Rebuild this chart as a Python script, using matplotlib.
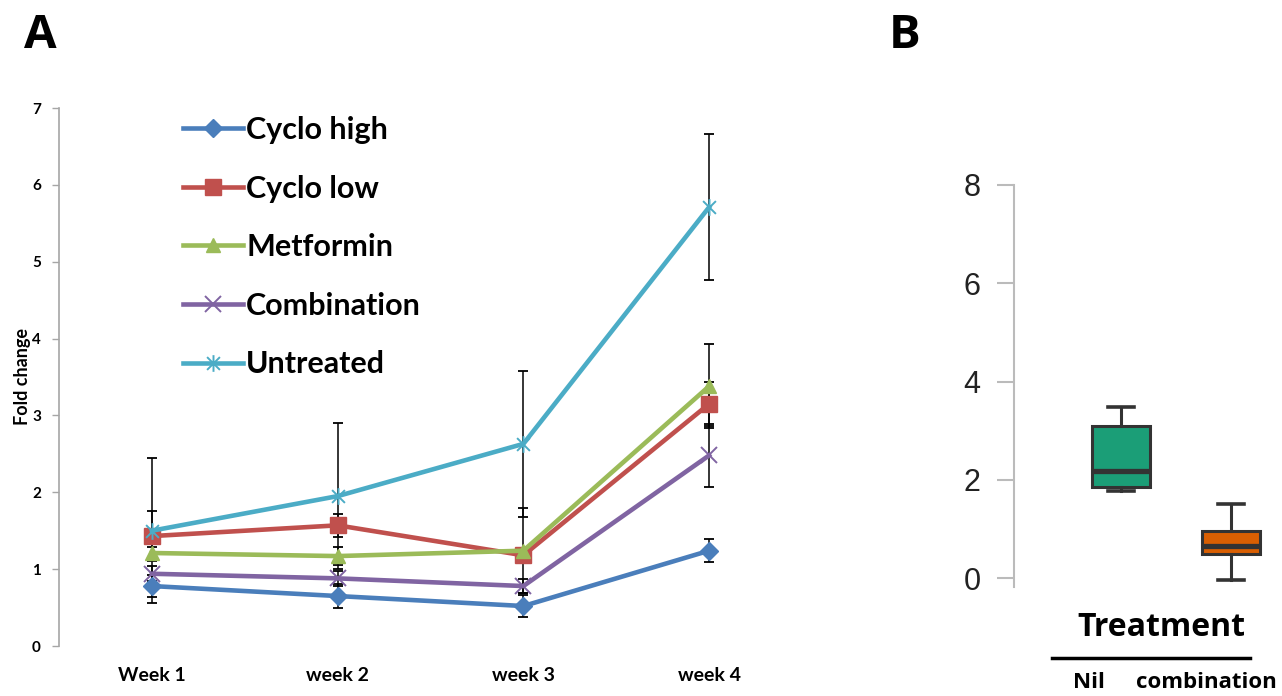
import matplotlib
matplotlib.use("Agg")
import matplotlib.pyplot as plt
from matplotlib.path import Path

# ---------------- data ----------------
weeks = ["Week 1", "week 2", "week 3", "week 4"]
series_names = ["Cyclo high", "Cyclo low", "Metformin", "Combination", "Untreated"]
cyclo_high = [0.78, 0.65, 0.52, 1.24]
cyclo_low = [1.43, 1.57, 1.18, 3.15]
metformin = [1.21, 1.17, 1.24, 3.38]
combination = [0.94, 0.88, 0.78, 2.48]
untreated = [1.50, 1.95, 2.63, 5.71]
err_cyclo_high = [0.14, 0.16, 0.14, 0.15]
err_cyclo_low = [0.33, 0.15, 0.08, 0.29]
err_metformin = [0.08, 0.12, 0.55, 0.55]
err_combination = [0.10, 0.10, 0.09, 0.41]
err_untreated = [0.94, 0.95, 0.95, 0.95]

box_labels = ["Nil", "combination"]
box_whislo = [1.77, -0.04]
box_q1 = [1.85, 0.49]
box_med = [2.18, 0.65]
box_q3 = [3.10, 0.96]
box_whishi = [3.48, 1.51]

# ---------------- styles ----------------
colors = ["#4A7EBB", "#C0504D", "#9BBB59", "#8064A2", "#4BACC6"]
star = Path([(-1, -1), (1, 1), (-1, 1), (1, -1), (0, -1.3), (0, 1.3)],
            [Path.MOVETO, Path.LINETO, Path.MOVETO, Path.LINETO, Path.MOVETO, Path.LINETO])
markers = ["D", "s", "^", "x", star]
msizes = [9, 12, 10, 11, 12]

W, H = 1282, 696
fig = plt.figure(figsize=(W / 100, H / 100), dpi=100)
fontA = "Lato"

# ---------------- panel A ----------------
axA = fig.add_axes([59 / W, 1 - 646 / H, 743 / W, 538 / H])
xs = list(range(len(weeks)))
data = [cyclo_high, cyclo_low, metformin, combination, untreated]
errs = [err_cyclo_high, err_cyclo_low, err_metformin, err_combination, err_untreated]
handles = []
for name, vals, e, c, m, ms in zip(series_names, data, errs, colors, markers, msizes):
    axA.errorbar(xs, vals, yerr=e, fmt="none", ecolor="black", elinewidth=1.1,
                 capsize=3.5, capthick=1.3, zorder=2)
    if m in ("x",) or isinstance(m, Path):
        h, = axA.plot(xs, vals, color=c, lw=3.3, marker=m, ms=ms, mfc="none",
                      mec=c, mew=1.4, zorder=3, label=name)
    else:
        h, = axA.plot(xs, vals, color=c, lw=3.3, marker=m, ms=ms, mfc=c,
                      mec=c, zorder=3, label=name)
    handles.append(h)

axA.set_xlim(-0.5, 3.5)
axA.set_ylim(0, 7)
axA.set_yticks(range(0, 8))
axA.set_xticks(xs)
axA.set_xticklabels(weeks, fontsize=14, fontweight="bold", family=fontA)
for lab in axA.get_yticklabels():
    lab.set_fontsize(11)
    lab.set_fontweight("bold")
    lab.set_family(fontA)
axA.tick_params(axis="x", length=0, pad=15)
axA.tick_params(axis="y", length=5, width=1, color="#A6A6A6", pad=8)
for s in ["top", "right", "bottom"]:
    axA.spines[s].set_visible(False)
axA.spines["left"].set_color("#A6A6A6")
axA.spines["left"].set_linewidth(1.2)
axA.set_ylabel("Fold change", fontsize=13, fontweight="bold", family=fontA, labelpad=1)

leg = axA.legend(handles=handles, loc="upper left",
                 bbox_to_anchor=(183 / W, 1 - 116 / H), bbox_transform=fig.transFigure,
                 frameon=False, prop={"family": fontA, "weight": "bold", "size": 22},
                 handlelength=1.95, handletextpad=0.12, labelspacing=1.0,
                 borderpad=0, borderaxespad=0)

fig.text(40 / W, 1 - 36 / H, "A", fontsize=34, fontweight="bold", family="Open Sans",
         ha="center", va="center")

# ---------------- panel B ----------------
axB = fig.add_axes([1014 / W, 1 - 587 / H, 268 / W, (587 - 185) / H])
stats = []
for i in range(len(box_labels)):
    stats.append(dict(label=box_labels[i], whislo=box_whislo[i], q1=box_q1[i],
                      med=box_med[i], q3=box_q3[i], whishi=box_whishi[i], fliers=[]))
bp = axB.bxp(stats, positions=[0, 1], widths=0.52, patch_artist=True,
             showfliers=False, capwidths=0.24,
             boxprops=dict(edgecolor="#333333", linewidth=2.2),
             medianprops=dict(color="#333333", linewidth=3.8),
             whiskerprops=dict(color="#333333", linewidth=2.2),
             capprops=dict(color="#333333", linewidth=2.6))
for patch, fc in zip(bp["boxes"], ["#1B9E77", "#D95F02"]):
    patch.set_facecolor(fc)

axB.set_xlim(-0.973, 1.464)
axB.set_ylim(-0.18, 8)
axB.set_yticks([0, 2, 4, 6, 8])
axB.set_xticks([])
for lab in axB.get_yticklabels():
    lab.set_fontsize(22)
    lab.set_family("Liberation Sans")
    lab.set_color("#222222")
axB.tick_params(axis="y", length=12, width=1.5, color="#BBBBBB", pad=12)
for s in ["top", "right", "bottom"]:
    axB.spines[s].set_visible(False)
axB.spines["left"].set_color("#BBBBBB")
axB.spines["left"].set_linewidth(1.5)

fig.text(1161 / W, 1 - 628 / H, "Treatment", fontsize=23, fontweight="bold",
         family="Open Sans", ha="center", va="center")
fig.add_artist(plt.Line2D([1052 / W, 1250 / W], [1 - 658 / H, 1 - 658 / H],
                          color="black", lw=2.5, transform=fig.transFigure))
fig.text(1089 / W, 1 - 683 / H, box_labels[0], fontsize=16, fontweight="bold",
         family="Open Sans", ha="center", va="center")
fig.text(1206 / W, 1 - 683 / H, box_labels[1], fontsize=16, fontweight="bold",
         family="Open Sans", ha="center", va="center")
fig.text(905 / W, 1 - 36 / H, "B", fontsize=34, fontweight="bold", family="Open Sans",
         ha="center", va="center")

fig.savefig("out.png", dpi=100)
